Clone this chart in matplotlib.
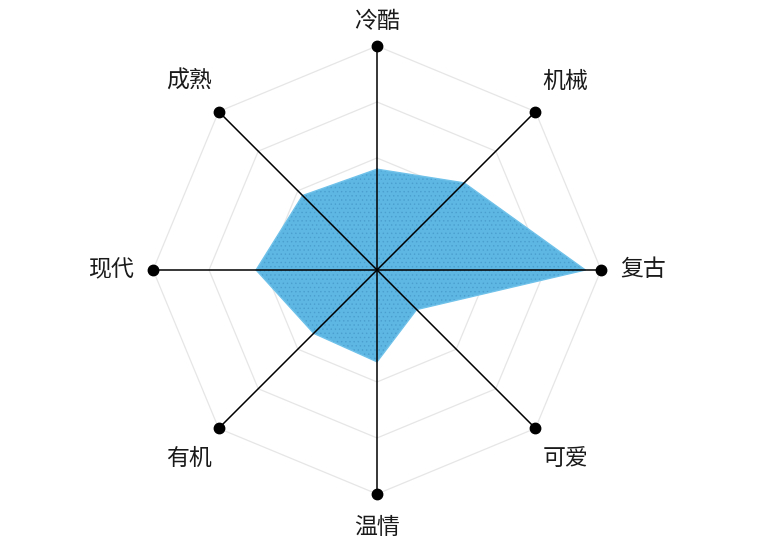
import numpy as np
import matplotlib
matplotlib.use('Agg')
import matplotlib.pyplot as plt

plt.rcParams['font.family'] = ['Noto Sans CJK SC', 'DejaVu Sans']
plt.rcParams['hatch.linewidth'] = 0.5

# Axis labels, clockwise from the top, and the values (0-10 scale).
labels = ['冷酷', '机械', '复古', '可爱', '温情', '有机', '现代', '成熟']
values = [4.5, 5.5, 9.3, 2.5, 4.1, 4.0, 5.4, 4.7]
max_value = 10
levels = [2.5, 5.0, 7.5, 10.0]

n = len(labels)
angles = np.arange(n) * 2 * np.pi / n
closed = np.append(angles, angles[0])

fig = plt.figure(figsize=(7.64, 5.42), dpi=100)
ax = fig.add_axes([0.2003, 0.0886, 0.5864, 0.8266], projection='polar')
ax.set_theta_offset(np.pi / 2)
ax.set_theta_direction(-1)
ax.set_ylim(0, max_value)
ax.grid(False)
ax.spines['polar'].set_visible(False)
ax.set_xticks([])
ax.set_yticks([])
ax.patch.set_alpha(0)

# Octagon grid rings.
for lv in levels:
    ax.plot(closed, [lv] * (n + 1), color='#e6e6e6', lw=0.9, zorder=1)

# Filled data polygon with a fine dot pattern.
vals = np.append(values, values[0])
ax.fill(closed, vals, facecolor='#5eb6e2', edgecolor='#4a9fcf', hatch='....',
        lw=0, zorder=2)
ax.plot(closed, vals, color='#70c2ea', lw=1.0, zorder=2)

# Spokes with end dots.
for a in angles:
    ax.plot([a, a], [0, max_value], color='black', lw=1.1, zorder=3)
ax.plot(angles, [max_value] * n, 'o', color='black', ms=7.5, zorder=4,
        clip_on=False)

# Labels (top one sits a bit closer than the bottom one).
for a, lab in zip(angles, labels):
    if np.isclose(np.cos(a), 1):
        r = 1.11
    elif np.isclose(np.cos(a), -1):
        r = 1.15
    else:
        r = 1.19
    ax.text(a, r * max_value, lab, fontsize=16.5, color='#1a1a1a',
            ha='center', va='center')

fig.savefig('out.png', dpi=100, facecolor='white')
